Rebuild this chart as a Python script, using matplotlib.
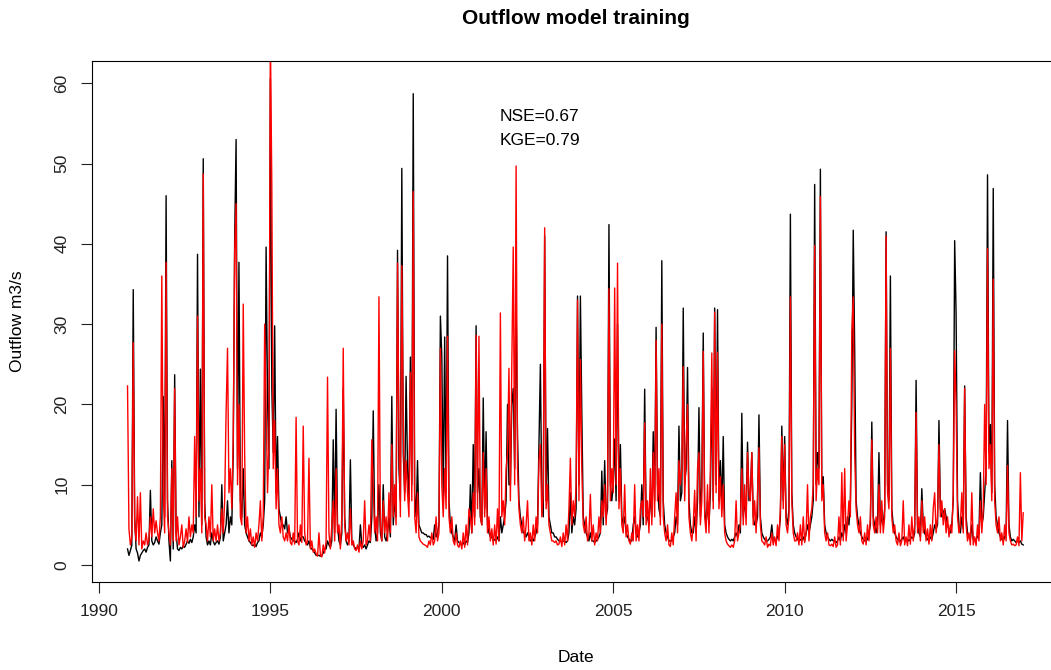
import numpy as np
import matplotlib
matplotlib.use("Agg")
import matplotlib.pyplot as plt

# half-monthly series, first value at Nov 1990 (step 20 of 24)
start_year = 1990
start_step = 20
steps_per_year = 24

# observed outflow (m3/s), one row per year
obs = [
    2.0, 1.2, 1.8, 2.5,
    34.3, 6, 2, 1.5, 0.5, 1.2, 1.5, 1.8, 2, 1.6, 2.2, 2.5, 9.3, 3, 2.5, 2.8, 3.5, 3, 2.6, 4, 5, 21, 6, 46,
    8, 3, 0.5, 13, 2, 23.7, 4, 2, 1.8, 2.2, 2, 2.4, 2.2, 2.6, 3, 2.7, 3.2, 2.8, 3.5, 5, 4, 38.7, 6, 24.4,
    5, 50.6, 8, 3.5, 2.5, 3, 2.5, 4, 3, 2.5, 2.8, 3, 2.6, 3.5, 10, 3, 4, 5, 8, 4, 6, 5, 14, 40.6,
    53, 12, 37.7, 8, 6, 12, 5, 4, 3.5, 3, 2.8, 2.5, 2.4, 2.6, 2.3, 2.8, 3, 4, 3.5, 5, 8, 39.6, 21, 12,
    60.6, 22, 14, 29.8, 9, 16, 7, 6, 5, 5, 4.5, 6, 4, 4.5, 3.5, 3.2, 3, 3, 2.8, 3.2, 4, 3, 3.5, 3.5,
    3, 2.8, 2.5, 3, 2.2, 2, 1.8, 1.5, 1.2, 1.2, 1.2, 1.1, 1.2, 1.5, 2, 2, 3, 2.5, 2.2, 3, 15.6, 4, 19.4, 5,
    3, 2.5, 4, 22, 6, 3, 2.5, 3, 13.1, 3, 2.5, 2.2, 2, 2.2, 2, 5, 2.5, 2.2, 2.5, 2, 2.5, 3, 2.8, 6,
    19.2, 5, 3, 4, 10, 4, 3, 10, 3.5, 3, 4, 6, 3.5, 21, 5, 8, 6, 39.2, 12, 8, 49.4, 14, 9, 23.5,
    12, 8, 25.9, 10, 58.7, 9, 6, 13, 5, 4.5, 4, 4, 3.8, 3.8, 3.5, 3.6, 3.4, 3.5, 3.2, 5, 3.5, 4, 5, 31,
    26, 8, 28.4, 9, 38.5, 8, 5, 4, 3.5, 3, 5, 3, 2.8, 2.6, 2.5, 2.8, 2.5, 3, 2.8, 4, 10, 4, 15, 6,
    29.8, 9, 12, 6, 5, 20.8, 7, 16.6, 5, 4, 3.5, 3.5, 3, 3.2, 3, 3.5, 3, 6, 4, 5, 6, 8, 20, 10,
    10, 20, 22, 12, 33, 16, 8, 6, 5, 4, 4, 3.5, 4, 3.5, 3, 3.2, 3, 3.5, 4, 5, 15, 25, 8, 6,
    41, 8, 17, 6, 5, 4, 4, 3.5, 3.5, 3.2, 3, 3, 2.8, 3, 3, 2.8, 3, 4, 9, 4, 6, 5, 7, 33.5,
    10, 33.5, 19, 6, 5, 4, 3.5, 3, 4, 3, 3, 2.8, 3, 3.2, 3.5, 4, 11.7, 5, 13, 6, 7, 42.4, 10, 8,
    10, 15.7, 8, 30, 8, 15, 6, 5, 6, 4, 3.5, 3.2, 3, 3, 5, 6, 4, 3.5, 4, 5, 10, 5, 21.9, 6,
    6, 5, 9, 6, 16.6, 8, 29.6, 10, 7, 6, 37.9, 8, 5, 4, 3.5, 3, 3, 3, 3.5, 4, 6, 5, 17.3, 8,
    9, 32, 10, 12, 24.6, 8, 5, 4, 4, 6, 4, 8, 19.6, 6, 10, 28.9, 7, 5, 8, 5, 9, 22, 8, 32,
    10, 31.8, 8, 13, 7, 16, 5, 4, 3.5, 3.2, 3, 3.2, 3, 3.5, 4, 3.5, 5, 4, 18.9, 6, 8, 6, 15.3, 8,
    9, 14, 6, 5, 5, 6, 18.7, 6, 4, 3.5, 3.2, 3, 3, 3.2, 3.5, 5, 3, 3.2, 3, 3.5, 4, 6, 17.3, 8,
    16, 6, 5, 7, 43.7, 9, 5, 4, 3.5, 3.2, 3, 3.2, 3, 3.5, 3, 4, 5, 4, 5, 6, 8, 47.4, 10, 14,
    12, 49.3, 9, 11, 5, 4, 3.5, 3.2, 3, 3.2, 3, 3, 2.8, 3, 3.5, 3, 4, 3.5, 5, 4, 6, 5, 8, 20,
    41.7, 27, 8, 6, 5, 4, 3.5, 3.2, 3, 3, 3.2, 4, 5, 17.8, 6, 5, 4, 5, 14, 5, 6, 5, 7, 41.5,
    10, 8, 36, 7, 5, 4, 3.5, 3.2, 3, 3, 3.2, 3.5, 3, 3, 3.2, 3, 3.2, 3.5, 3.3, 4, 23, 5, 4, 3.5,
    9.5, 5, 4, 3.5, 3.2, 3, 3.5, 3.2, 4, 5, 4.5, 5, 18, 7, 6, 6.5, 7, 6, 5, 4.5, 4, 5, 8, 40.4,
    31.3, 8, 5, 4, 6, 4.5, 22.3, 6, 4, 3.5, 3.2, 5, 3.2, 3, 3.2, 3.5, 4, 11.5, 5, 6, 9, 12, 48.6, 14,
    17.5, 9, 46.9, 10, 6, 5, 4, 3.5, 3.2, 3, 3.5, 4, 18, 5, 3.5, 3, 3.2, 3, 2.8, 3, 2.8, 3, 2.6, 2.5,
]

# simulated outflow (m3/s), same steps
sim = [
    22.3, 4.5, 2.5, 3.5,
    27.7, 5, 3, 8.5, 2.5, 9, 2, 3, 2.5, 4, 2.5, 3.2, 6, 3.5, 7, 4, 5.5, 4, 3, 6, 36, 9, 4, 37.7,
    6, 4, 2.5, 12, 3, 22, 3, 6, 2.5, 3.5, 5, 2.2, 3, 4.5, 2.8, 6, 3.5, 5, 4, 16, 6, 31, 8, 12,
    4, 48.7, 6, 5, 3, 6, 3.5, 10, 3, 4.5, 3, 5, 3, 4, 7, 4, 8, 19, 27, 9, 12, 7, 16, 39,
    45, 10, 20, 6, 5, 32.5, 13.5, 4, 6, 3, 4.5, 2.5, 3.5, 2.2, 4, 3, 5, 8, 3, 6, 30, 20, 9, 15,
    66, 47.3, 12, 18, 7, 12, 5, 4, 6, 3.5, 3, 4, 3, 5, 2.8, 2.5, 4, 2.6, 18.4, 3, 2.5, 5, 2.8, 17.3,
    4, 2.5, 3, 13.3, 2, 3, 1.6, 2, 1.4, 1.1, 4, 1.3, 1, 2.5, 1.5, 3, 23.4, 4, 2, 5, 8, 3, 12, 4,
    5, 2, 6, 27, 5, 3, 4, 2.5, 7, 2.5, 3, 2, 1.8, 2.5, 1.6, 3, 2, 3, 8, 2.5, 3, 5, 3, 15.6,
    10, 4, 6, 3, 33.4, 5, 3, 8, 4, 6, 3, 9, 4, 15, 6, 10, 5, 37.6, 16, 6, 37.3, 18, 8, 13,
    9, 6, 24, 8, 46.5, 6, 4, 9, 3.5, 3, 2.8, 2.6, 2.5, 2.4, 2.2, 3, 2.5, 4, 2.5, 3, 6, 3, 4, 27,
    10, 6, 12, 7, 28.5, 6, 4, 6, 3, 2.5, 4, 2.5, 2.2, 3, 2, 4, 2.2, 5, 2.5, 7, 6, 4, 9, 5,
    28.6, 7, 28.5, 6, 5, 14, 6, 12, 4, 6, 3, 4.5, 2.5, 5, 2.6, 7, 3, 31.4, 6, 8, 5, 12, 14, 24.5,
    8, 25, 39.6, 10, 49.7, 12, 7, 5, 4, 6, 3, 5, 8, 3, 4, 2.5, 5, 3, 6, 4, 13, 15, 6, 9,
    42, 7, 10, 5, 4, 3, 3, 2.8, 3, 2.5, 2.6, 3.5, 2.3, 4, 2.5, 5, 3, 7, 13.3, 5, 8, 6, 10, 33,
    8, 25.6, 12, 5, 4, 6, 3, 4, 8.8, 3, 5, 2.5, 4, 3, 6, 4, 8, 6, 10, 5, 9, 34.4, 8, 12,
    9, 34.5, 10, 37.6, 7, 12, 5, 4, 10, 3.5, 5, 3, 2.6, 4, 3, 10, 3, 5, 3, 7, 8, 6, 17.7, 5,
    8, 4, 12, 5, 14, 6, 28, 8, 12, 5, 30, 6, 4, 3, 5, 2.5, 2.3, 4, 2.5, 6, 9, 4, 13, 10,
    12, 24.7, 8, 15, 20, 6, 4, 3, 5, 9.3, 3, 12, 14, 5, 8, 26.6, 6, 4, 10, 4, 12, 26.4, 7, 31.5,
    9, 26.5, 7, 11, 6, 10, 4, 3, 2.6, 2.4, 2.2, 2.5, 2.2, 3, 8, 3, 4, 5, 12, 5, 10, 5, 14, 9,
    8, 14, 5, 8, 4, 9, 14.6, 5, 3, 2.8, 2.5, 3.5, 2.2, 2.6, 2.4, 4, 2.5, 3.5, 2.4, 5, 3, 7, 16, 7,
    15, 5, 4, 6, 33.4, 8, 4, 3, 3, 4, 2.5, 5, 2.5, 6, 2.8, 4, 10, 3, 6, 7, 10, 39.8, 8, 12,
    10, 45.9, 8, 10, 4, 3, 4, 2.5, 2.4, 2.6, 2.3, 3.5, 2.2, 2.5, 6, 2.5, 11.5, 3, 12, 3, 5, 8, 6, 29,
    33.4, 14, 7, 5, 4, 6, 3, 2.6, 4, 2.5, 5, 3, 6, 15.6, 5, 4, 6, 4, 10, 4, 8, 4, 6, 41,
    9, 7, 27, 6, 4, 5, 3, 2.5, 4, 2.4, 3, 8, 2.5, 3.5, 2.4, 5, 2.6, 6, 3, 5, 19, 4, 6, 3,
    8, 4, 6, 3, 4.5, 2.6, 5, 3, 7, 9, 4, 6, 15, 6, 8, 5, 7, 4, 6, 3.5, 5, 4, 9, 26.7,
    20, 6, 4, 5, 9, 4, 22, 5, 3, 4, 2.5, 9, 2.5, 3.5, 2.4, 5, 3, 8, 4, 7, 20, 10, 39.4, 12,
    15, 8, 35.6, 8, 5, 4, 6, 3, 4, 2.5, 5, 3, 12.4, 4, 3, 2.5, 2.6, 2.4, 2.5, 3.5, 2.4, 11.5, 3, 6.5,
]

x_ticks = [1990, 1995, 2000, 2005, 2010, 2015]
y_ticks = [0, 10, 20, 30, 40, 50, 60]
nse = 0.67
kge = 0.79


def to_dates(values):
    steps = start_step + np.arange(len(values))
    return start_year + steps / steps_per_year


plt.rcParams['font.family'] = ['Liberation Sans', 'DejaVu Sans']

fig = plt.figure(figsize=(10.51, 6.70), dpi=100)
# right edge of the plot box falls outside the picture, as in the original
ax = fig.add_axes([0.0873, 0.1313, 0.9219, 0.7776])

ax.plot(to_dates(obs), obs, color='black', lw=1.0)
ax.plot(to_dates(sim), sim, color='red', lw=1.0)

ax.set_xlim(1989.79, 2018.05)
ax.set_ylim(-2.12, 62.77)
ax.set_xticks(x_ticks)
ax.set_yticks(y_ticks)
ax.tick_params(direction='out', length=8, width=0.8, labelsize=12.5, pad=8,
               colors='#222222')
plt.setp(ax.get_yticklabels(), rotation=90, va='center')
for sp in ax.spines.values():
    sp.set_linewidth(0.8)

ax.text(2002.85, 55.8, f"NSE={nse}", ha='center', va='center', fontsize=12.5)
ax.text(2002.85, 52.9, f"KGE={kge}", ha='center', va='center', fontsize=12.5)

fig.text(0.548, 0.973, "Outflow model training", ha='center', va='center',
         fontsize=15, fontweight='bold')
fig.text(0.548, 0.019, "Date", ha='center', va='center', fontsize=12.5)
fig.text(0.0171, 0.521, "Outflow m3/s", ha='center', va='center',
         rotation=90, fontsize=12.5)

fig.savefig("out.png", dpi=100)
